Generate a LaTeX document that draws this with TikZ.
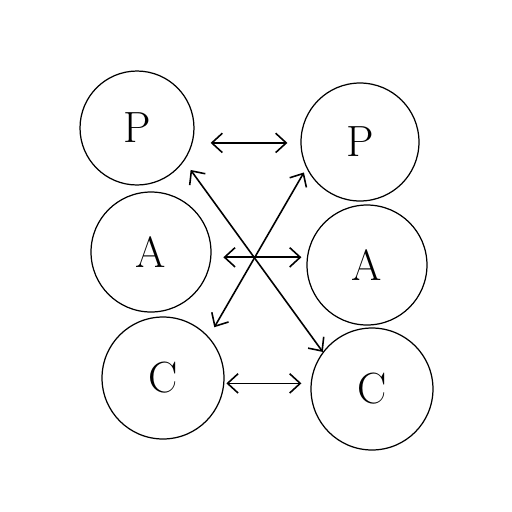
\documentclass[tikz,border=0pt]{standalone}
\usepackage{amsmath}
\usetikzlibrary{arrows.meta}

\begin{document}
\begin{tikzpicture}[x=0.02cm, y=-0.02cm, every node/.style={draw, circle, line width=0.7pt, font=\Huge}, link/.style={line width=0.9pt, {Straight Barb[length=6pt,width=11pt]}-{Straight Barb[length=6pt,width=11pt]}}]
            \useasboundingbox (0,0) rectangle (512,512);
            % left column
            \node[minimum size=2.28cm] (pl) at (137,128) {P};
            \node[minimum size=2.4cm] (al) at (151,252) {A};
            \node[minimum size=2.44cm] (cl) at (163,378) {C};
            % right column
            \node[minimum size=2.36cm] (pr) at (360,142) {P};
            \node[minimum size=2.4cm] (ar) at (367,265) {A};
            \node[minimum size=2.44cm] (cr) at (372,389) {C};

            \draw[link, shorten <=0.36cm, shorten >=0.26cm] (pl.-15) -- (pl.-15 -| pr.west);
            \draw[link, shorten <=0.24cm, shorten >=0.1cm] (al.-5) -- (al.-5 -| ar.west);
            \draw[link, shorten <=0.04cm, shorten >=0.18cm] (cl.-5) -- (cl.-5 -| cr.west);
            %\draw[link] (pl) -- (cr);
            \draw[link, shorten <=0.22cm] (pl.-35) -- (cr.143);
            \draw[link, shorten <=0.1cm, shorten >=0.22cm] (pr.206) -- (cl.42);
\end{tikzpicture}
\end{document}
